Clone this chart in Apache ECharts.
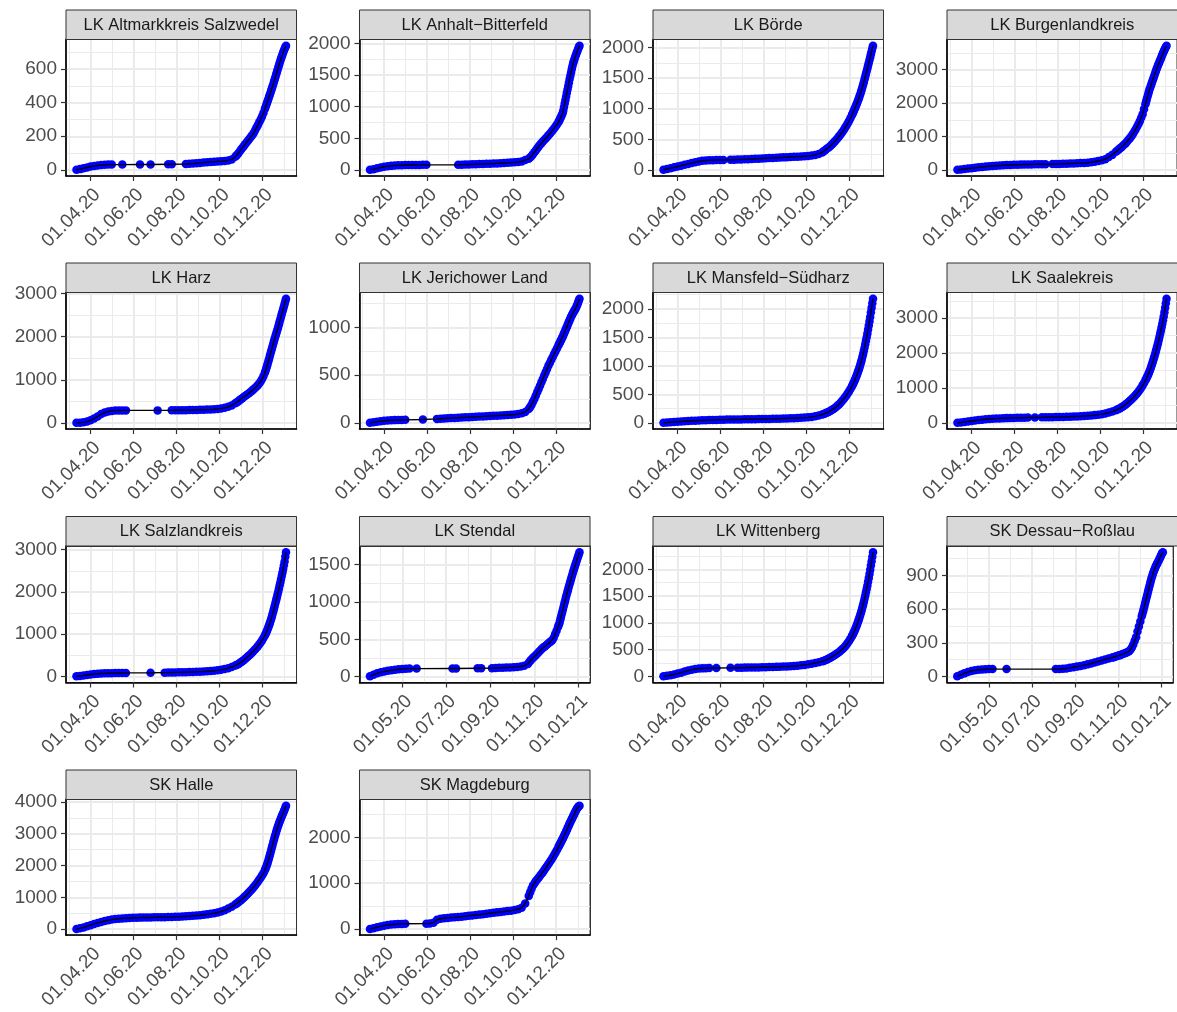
<!DOCTYPE html>
<html>
<head>
<meta charset="utf-8">
<script src="https://cdn.jsdelivr.net/npm/echarts@6/dist/echarts.min.js"></script>
<style>
html,body{margin:0;padding:0;background:#fff;}
#chart{width:1177px;height:1012px;}
</style>
</head>
<body>
<div id="chart"></div>
<script>
// ---------------- DATA ----------------
// Panel titles (facets)
const districtNames = [
  'LK Altmarkkreis Salzwedel', 'LK Anhalt\u2212Bitterfeld', 'LK Börde', 'LK Burgenlandkreis',
  'LK Harz', 'LK Jerichower Land', 'LK Mansfeld\u2212Südharz', 'LK Saalekreis',
  'LK Salzlandkreis', 'LK Stendal', 'LK Wittenberg', 'SK Dessau\u2212Roßlau',
  'SK Halle', 'SK Magdeburg'
];

// Sample dates: days after 2020-01-01 (71 = 12.03.2020, 368 = 03.01.2021)
const dayOffsets = [71,76,81,86,91,96,101,106,111,116,121,126,131,136,141,146,151,156,161,166,171,176,181,186,191,196,201,206,211,216,221,226,231,236,241,246,251,256,261,266,271,276,281,286,291,296,
  298,300,302,304,306,308,310,312,314,316,318,320,322,324,326,328,330,332,334,336,338,
  339,340,341,342,343,344,345,346,347,348,349,350,351,352,353,354,355,356,357,358,359,360,361,362,363,364,365,366,367,368];

// Cumulative cases per district (null = no report that day)
const casesAltmark = [0,4,9,14,19,23,26,28,30,31, 31,null,null,31,null,null,null,null,32,null, null,32,null,null,null,null,33,33,null,null, null,35,36,37,39,41,43,45,47,48, 50,51,53,56,62,78,
  86,96,108,120,130,141,152,163,173,184, 195,206,218,234,250,266,283,300,318,338, 362,
  374,386,398,410,422,435,447,460,473,486, 499,512,526,540,554,568,582,596,610,624, 638,652,664,676,688,700,711,722,731,740];
const casesAnhalt = [2,12,25,38,50,58,64,68,72,75, 77,78,78,79,79,80,80,null,null,null, null,null,null,null,null,82,83,84,86,88, 90,92,94,96,98,100,103,106,109,112, 116,120,125,135,155,175,
  195,220,248,278,308,338,368,396,422,448, 472,496,520,546,572,600,628,656,686,718, 752,
  772,795,820,845,870,895,940,995,1050,1105, 1160,1215,1270,1325,1380,1435,1488,1540,1590,1640, 1685,1720,1755,1790,1820,1850,1880,1910,1938,1962];
const casesBoerde = [2,15,28,42,56,70,84,98,112,125, 137,148,155,158,160,161,162,163,null,165, 167,169,171,173,176,178,181,184,187,190, 193,196,199,202,205,208,211,214,217,220, 224,228,234,245,262,285,
  305,322,340,358,376,396,418,442,468,494, 522,550,580,610,644,680,718,758,800,846, 894,
  919,944,971,998,1026,1054,1083,1112,1142,1172, 1206,1240,1277,1315,1355,1395,1437,1480,1525,1570, 1615,1660,1705,1750,1795,1840,1890,1940,1988,2030];
const casesBurgenland = [3,15,28,40,52,64,76,88,98,108, 116,124,132,138,144,148,152,155,158,160, 162,164,166,168,170,171,null,174,177,180, 183,186,190,194,199,204,209,215,228,245, 265,290,321,385,450,540,
  575,610,645,680,720,760,800,850,900,950, 1010,1070,1140,1210,1290,1370,1460,1560,1670,1820, 1970,
  2045,2120,2195,2270,2345,2420,2480,2540,2600,2660, 2720,2780,2845,2910,2970,3030,3085,3140,3190,3240, 3290,3340,3395,3450,3500,3550,3595,3640,3680,3720];
const casesHarz = [2,5,12,30,60,100,150,205,240,265, 278,285,288,290,290,null,null,null,null,null, null,null,null,290,null,null,null,291,292,293, 294,295,297,299,301,303,305,308,312,317, 324,334,350,372,405,455,
  475,498,522,550,574,598,622,646,670,695, 720,748,778,808,840,875,915,960,1015,1080, 1160,
  1210,1260,1315,1370,1430,1490,1550,1610,1668,1725, 1782,1840,1898,1955,2010,2065,2118,2170,2230,2290, 2350,2410,2470,2530,2585,2640,2700,2760,2820,2880];
const casesJerichow = [1,6,12,18,22,25,27,29,30,31, 32,null,null,null,null,36,null,null,null,42, 44,46,48,50,52,54,56,58,60,62, 64,66,68,70,72,74,76,78,80,82, 85,88,92,100,115,145,
  165,190,220,250,285,320,355,390,425,460, 495,530,565,600,630,660,690,720,750,780, 810,
  825,840,855,870,885,900,918,935,952,970, 988,1005,1022,1040,1058,1075,1092,1110,1125,1140, 1152,1165,1178,1190,1205,1220,1240,1260,1280,1300];
const casesMansfeld = [1,5,10,15,20,25,29,33,36,39, 42,44,46,48,50,52,54,56,57,58, 59,60,61,62,63,64,65,66,67,68, 69,70,72,74,76,78,80,82,85,88, 92,97,104,114,128,146,
  155,165,176,188,200,214,228,244,262,282, 304,328,354,382,412,444,478,514,552,594, 640,
  665,690,717,745,775,805,837,870,905,940, 980,1020,1065,1110,1160,1210,1265,1320,1380,1440, 1505,1570,1640,1710,1785,1860,1940,2020,2100,2180];
const casesSaalekreis = [2,12,24,38,52,66,80,92,102,110, 117,123,128,132,136,139,142,145,148,150, 152,null,155,null,158,160,162,164,166,168, 171,174,178,182,186,191,197,204,212,222, 235,250,270,295,325,362,
  380,400,422,446,472,500,530,562,596,632, 670,710,752,796,844,895,950,1010,1075,1145, 1220,
  1260,1300,1345,1390,1440,1490,1545,1600,1660,1720, 1785,1850,1920,1990,2065,2140,2220,2300,2385,2470, 2560,2650,2745,2840,2945,3050,3170,3300,3430,3560];
const casesSalzland = [2,10,20,32,44,54,62,68,72,75, 77,79,80,81,82,null,null,null,null,null, null,85,null,null,null,88,90,92,94,96, 98,100,102,105,108,112,116,121,127,134, 143,155,172,195,222,255,
  272,290,310,332,356,382,410,440,470,500, 532,565,600,636,674,714,756,802,852,908, 970,
  1005,1040,1080,1120,1165,1210,1260,1310,1365,1420, 1480,1540,1605,1670,1735,1800,1870,1940,2010,2080, 2155,2230,2305,2380,2460,2540,2630,2720,2830,2940];
const casesStendal = [null,5,25,45,60,70,78,86,93,100, 104,107,108,null,108,null,null,null,null,null, null,null,null,null,110,110,null,null,null,null, null,112,112,null,null,114,116,118,120,122, 124,127,131,137,146,170,
  195,220,240,260,278,297,316,336,356,376, 392,408,424,440,456,472,488,520,566,614, 664,
  690,716,754,792,830,868,906,944,982,1020, 1058,1096,1130,1164,1198,1232,1266,1300,1334,1368, 1400,1430,1460,1490,1520,1550,1580,1608,1637,1665];
const casesWittenberg = [2,10,22,36,52,70,90,110,126,138, 146,150,153,155,null,157,null,null,null,160, null,162,163,164,165,166,167,168,170,172, 174,176,178,180,183,186,190,195,200,207, 215,225,237,250,265,282,
  290,300,312,324,338,352,368,384,400,418, 436,456,478,502,528,556,588,622,660,702, 748,
  774,800,829,858,890,922,957,992,1030,1068, 1109,1150,1195,1240,1290,1340,1395,1450,1510,1570, 1635,1700,1770,1840,1915,1990,2070,2150,2235,2320];
const casesDessau = [null,2,15,28,40,50,56,60,63,65, 66,66,null,null,null,66,null,null,null,null, null,null,null,null,null,null,null,null,null,66, 67,69,72,77,82,88,94,101,108,116, 125,134,143,152,160,168,
  172,176,180,184,188,192,197,202,207,212, 218,225,238,258,285,318,350,400,445,490, 535,
  557,580,605,630,655,680,705,730,755,780, 805,830,853,875,895,915,933,950,965,980, 993,1005,1018,1030,1043,1055,1070,1085,1095,1105];
const casesHalle = [5,25,55,90,125,160,195,225,255,280, 300,315,328,338,346,352,357,360,362,364, 366,368,370,372,374,377,380,384,388,393, 398,404,411,419,428,438,450,464,480,500, 524,555,595,645,705,775,
  805,840,875,910,950,990,1030,1075,1120,1165, 1215,1265,1320,1375,1430,1490,1550,1615,1685,1760, 1850,
  1905,1960,2025,2090,2165,2240,2320,2400,2485,2570, 2655,2740,2820,2900,2975,3050,3120,3190,3255,3320, 3380,3440,3495,3550,3600,3650,3705,3760,3820,3880];
const casesMagdeburg = [2,20,40,58,75,88,98,105,110,113, 115,null,null,null,null,null,118,122,140,205, 225,235,243,250,256,263,271,280,290,298, 306,315,325,335,345,355,364,373,382,392, 402,415,432,465,560,720,
  800,880,950,995,1040,1080,1120,1160,1200,1240, 1285,1330,1375,1420,1465,1510,1560,1615,1670,1725, 1785,
  1815,1845,1875,1905,1935,1965,1998,2030,2062,2095, 2128,2160,2195,2230,2265,2300,2332,2365,2395,2425, 2458,2490,2522,2555,2585,2615,2640,2660,2676,2690];

// Y tick labels per panel
const yTicks500to2000 = [0,500,1000,1500,2000];
const yTicks1000to3000 = [0,1000,2000,3000];
const yTicksAltmark = [0,200,400,600];
const yTicksJerichow = [0,500,1000];
const yTicksStendal = [0,500,1000,1500];
const yTicksDessau = [0,300,600,900];
const yTicksHalle = [0,1000,2000,3000,4000];
const yTicksMagdeburg = [0,1000,2000];

// X tick dates and labels (two break sets)
const xTickDatesA = ['2020-04-01','2020-06-01','2020-08-01','2020-10-01','2020-12-01'];
const xTickLabelsA = ['01.04.20','01.06.20','01.08.20','01.10.20','01.12.20'];
const xTickDatesB = ['2020-05-01','2020-07-01','2020-09-01','2020-11-01','2021-01-01'];
const xTickLabelsB = ['01.05.20','01.07.20','01.09.20','01.11.20','01.01.21'];

// ---------------- BUILD ----------------
const caseSeries = [casesAltmark, casesAnhalt, casesBoerde, casesBurgenland, casesHarz, casesJerichow, casesMansfeld,
  casesSaalekreis, casesSalzland, casesStendal, casesWittenberg, casesDessau, casesHalle, casesMagdeburg];
const yTickSets = [yTicksAltmark, yTicks500to2000, yTicks500to2000, yTicks1000to3000, yTicks1000to3000, yTicksJerichow,
  yTicks500to2000, yTicks1000to3000, yTicks1000to3000, yTicksStendal, yTicks500to2000, yTicksDessau, yTicksHalle, yTicksMagdeburg];
const xSetB = [false,false,false,false,false,false,false,false,false,true,false,true,false,false];

function isoToDay(s){ const p = s.split('-').map(Number); return (Date.UTC(p[0],p[1]-1,p[2]) - Date.UTC(2020,0,1)) / 86400000; }
const xTickDaysA = xTickDatesA.map(isoToDay);
const xTickDaysB = xTickDatesB.map(isoToDay);

// layout
const colLeft = [66, 359.5, 653, 947];
const rowTop = [39.5, 292.5, 546, 799.5];
const panelW = 230.5, panelH = 136.5, stripH = 29.5;
const AXIS_FONT = 19, STRIP_FONT = 16.5, FONT = 'Liberation Sans';

const grids = [], xAxes = [], yAxes = [], series = [], graphics = [];

caseSeries.forEach((vals, i) => {
  const col = i % 4, row = Math.floor(i / 4);
  const left = colLeft[col], top = rowTop[row];
  const pts = [];
  vals.forEach((v, k) => { if (v !== null) pts.push([dayOffsets[k], v]); });
  const xs = pts.map(p => p[0]), ys = pts.map(p => p[1]);
  const xMin0 = Math.min(...xs), xMax0 = Math.max(...xs);
  const yMin0 = Math.min(...ys), yMax0 = Math.max(...ys);
  const xr = xMax0 - xMin0, yr = yMax0 - yMin0;
  const xMin = xMin0 - 0.05 * xr, xMax = xMax0 + 0.05 * xr;
  const yMin = yMin0 - 0.05 * yr, yMax = yMax0 + 0.05 * yr;

  const tDays = xSetB[i] ? xTickDaysB : xTickDaysA;
  const tLabels = xSetB[i] ? xTickLabelsB : xTickLabelsA;
  const xMinor = [tDays[0] - (tDays[1] - tDays[0]) / 2];
  for (let k = 0; k < tDays.length - 1; k++) xMinor.push((tDays[k] + tDays[k+1]) / 2);
  xMinor.push(tDays[tDays.length-1] + (tDays[tDays.length-1] - tDays[tDays.length-2]) / 2);
  const xMinorIn = xMinor.filter(v => v > xMin && v < xMax);

  const yt = yTickSets[i];
  const ystep = yt[1] - yt[0];
  const yMinor = [yt[0] - ystep / 2].concat(yt.map(v => v + ystep / 2)).filter(v => v > yMin && v < yMax);

  grids.push({ left: left, top: top, width: panelW, height: panelH, show: true,
    backgroundColor: '#FFFFFF', borderColor: '#333333', borderWidth: 1 });

  xAxes.push({ type: 'value', gridIndex: i, min: xMin, max: xMax, position: 'bottom',
    axisLine: { show: true, onZero: false, lineStyle: { color: '#000000', width: 1.6 } },
    axisTick: { show: true, length: 5, customValues: tDays, lineStyle: { color: '#333333', width: 1.2 } },
    axisLabel: { show: true, customValues: tDays, rotate: 45, align: 'right', verticalAlign: 'top', margin: 9,
      fontSize: AXIS_FONT, fontFamily: FONT, color: '#4D4D4D',
      formatter: (v) => { const j = tDays.findIndex(d => Math.abs(d - v) < 0.01); return j >= 0 ? tLabels[j] : ''; } },
    splitLine: { show: true, lineStyle: { color: '#EBEBEB', width: 2 } } });
  xAxes.push({ type: 'value', gridIndex: i, min: xMin, max: xMax, position: 'top',
    axisLine: { show: true, onZero: false, lineStyle: { color: '#333333', width: 1 } },
    axisTick: { show: false, customValues: xMinorIn },
    axisLabel: { show: false, customValues: xMinorIn },
    splitLine: { show: true, lineStyle: { color: '#EBEBEB', width: 1 } } });

  yAxes.push({ type: 'value', gridIndex: i, min: yMin, max: yMax, position: 'left',
    axisLine: { show: true, onZero: false, lineStyle: { color: '#000000', width: 1.6 } },
    axisTick: { show: true, length: 5, customValues: yt, lineStyle: { color: '#333333', width: 1.2 } },
    axisLabel: { show: true, customValues: yt, margin: 9, fontSize: AXIS_FONT, fontFamily: FONT, color: '#4D4D4D',
      formatter: (v) => String(Math.round(v)) },
    splitLine: { show: true, lineStyle: { color: '#EBEBEB', width: 2 } } });
  yAxes.push({ type: 'value', gridIndex: i, min: yMin, max: yMax, position: 'right',
    axisLine: { show: true, onZero: false, lineStyle: { color: '#333333', width: 1 } },
    axisTick: { show: false, customValues: yMinor },
    axisLabel: { show: false, customValues: yMinor },
    splitLine: { show: true, lineStyle: { color: '#EBEBEB', width: 1 } } });

  series.push({ type: 'scatter', xAxisIndex: 2 * i, yAxisIndex: 2 * i, data: pts,
    symbol: 'circle', symbolSize: 8.5, itemStyle: { color: '#0000FF', opacity: 1 }, silent: true, z: 2 });
  series.push({ type: 'line', xAxisIndex: 2 * i, yAxisIndex: 2 * i, data: pts, showSymbol: false,
    connectNulls: true, lineStyle: { color: '#000000', width: 1.4 }, silent: true, z: 3 });

  graphics.push({ type: 'rect', z: 10, shape: { x: left, y: top - stripH, width: panelW, height: stripH },
    style: { fill: '#D9D9D9', stroke: '#333333', lineWidth: 1 } });
  graphics.push({ type: 'text', z: 11, x: left + panelW / 2, y: top - stripH / 2 + 0.5,
    style: { text: districtNames[i], fill: '#1A1A1A', fontSize: STRIP_FONT, fontFamily: FONT,
      align: 'center', verticalAlign: 'middle', textAlign: 'center', textVerticalAlign: 'middle' } });
});

const chart = echarts.init(document.getElementById('chart'), null, { renderer: 'canvas', width: 1177, height: 1012 });
chart.setOption({
  backgroundColor: '#FFFFFF',
  animation: false,
  grid: grids,
  xAxis: xAxes,
  yAxis: yAxes,
  series: series,
  graphic: { elements: graphics }
});
</script>
</body>
</html>
